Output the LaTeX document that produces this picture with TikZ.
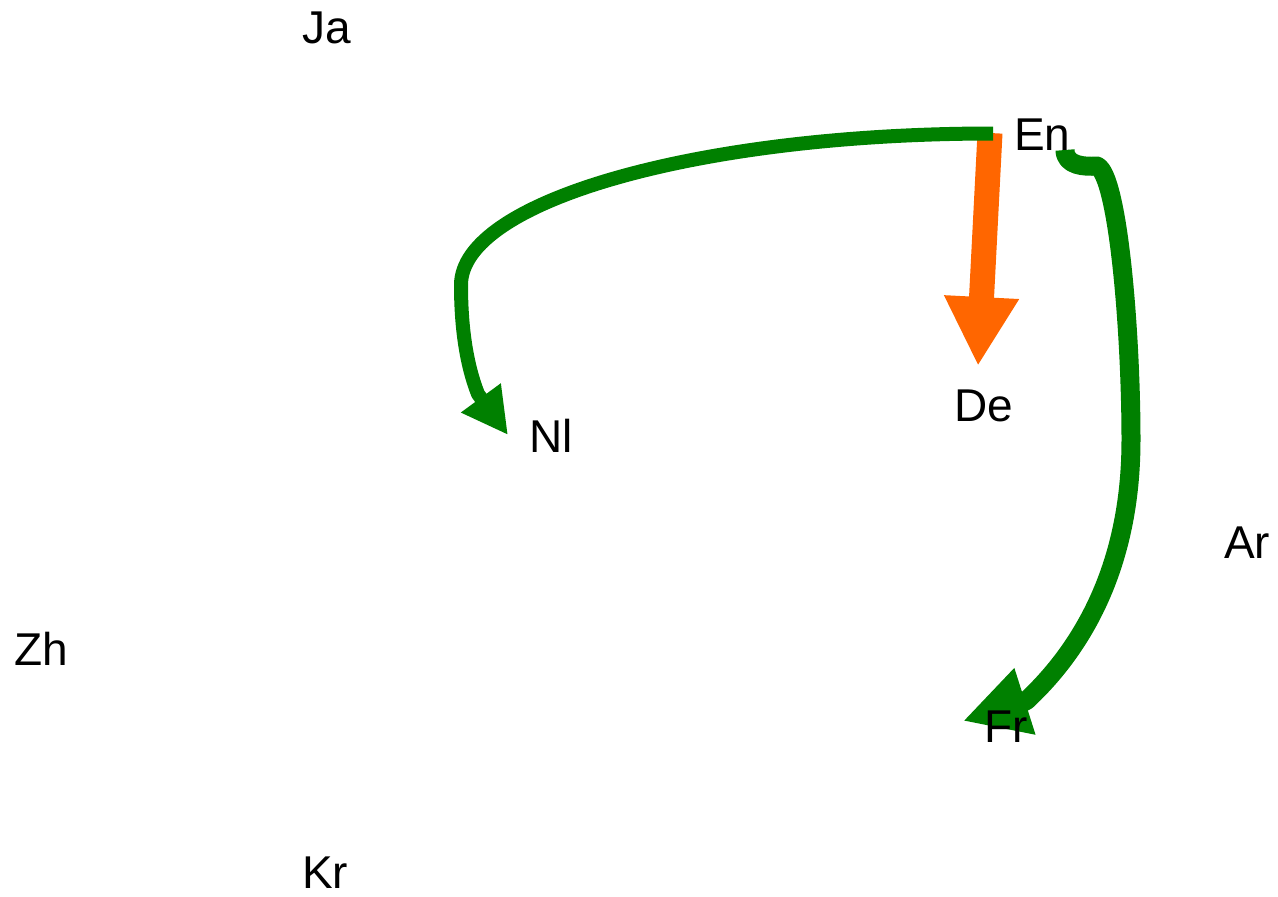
\documentclass[tikz,border=0pt]{standalone}
\usepackage{fontspec}
\setmainfont{Liberation Sans}
\usetikzlibrary{arrows.meta}
\pgfdeclarelayer{edges}
\pgfsetlayers{edges,main}
\definecolor{linkgreen}{RGB}{0,128,0}
\definecolor{linkorange}{RGB}{255,102,0}
\begin{document}
\begin{tikzpicture}[x=1pt,y=-1pt,
  lang/.style={font=\fontsize{46}{46}\selectfont, inner sep=0pt, anchor=base west},
  greenlink/.style={draw=linkgreen, line join=round},
  orangelink/.style={draw=linkorange, line join=round}]
\useasboundingbox (0,0) rectangle (1278,897);

% language labels
\node[lang] (ja) at (302,43)  {Ja};
\node[lang] (en) at (1014,150) {En};
\node[lang] (de) at (954,421) {De};
\node[lang] (nl) at (529,452) {Nl};
\node[lang] (ar) at (1224,558) {Ar};
\node[lang] (zh) at (14,665)  {Zh};
\node[lang] (fr) at (984,742) {Fr};
\node[lang] (kr) at (302,888) {Kr};

% links, kept beneath the labels
\begin{pgfonlayer}{edges}
  % En -> De
  \draw[orangelink, line width=25pt, -{Triangle[length=69pt,width=70pt]}]
    ([xshift=-24pt,yshift=17pt]en.base west) -- ([xshift=24pt,yshift=55pt]de.base west);
  % En -> Nl
  \draw[greenlink, line width=14pt, -{Triangle[length=46pt,width=46pt]}]
    ([xshift=-21pt,yshift=16.5pt]en.base west)
      .. controls (699,133.5) and (461,201) .. (461,285)
      .. controls (461,330) and (467,366) .. (478,394)
      -- ([xshift=-21pt,yshift=17pt]nl.base west);
  % En -> Fr
  \draw[greenlink, line width=19pt, -{Triangle[length=65pt,width=65pt]}]
    ([xshift=51pt]en.base west)
      .. controls (1065,166) and (1085,167) .. (1097,166)
      .. controls (1118,175) and (1131,330) .. (1131,440)
      .. controls (1131,565) and (1083,648) .. (1026,701)
      -- ([xshift=-21pt,yshift=21pt]fr.base west);
\end{pgfonlayer}
\end{tikzpicture}
\end{document}
